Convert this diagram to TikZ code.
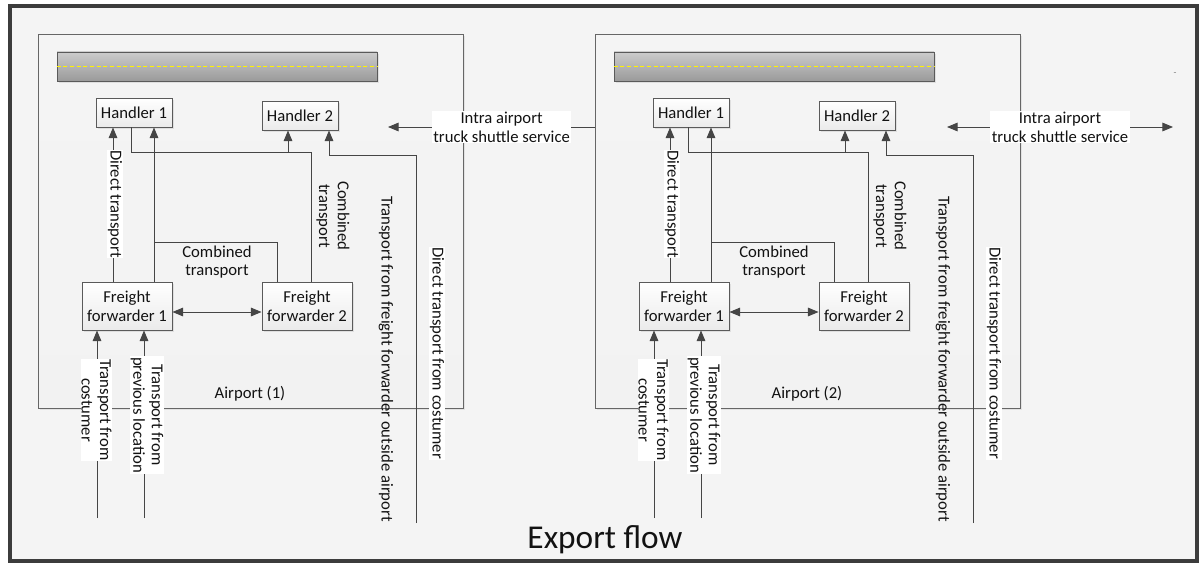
\documentclass[tikz,border=0pt]{standalone}
\usepackage{fontspec}
\setmainfont{Carlito}
\usetikzlibrary{arrows.meta,shadows}

\definecolor{framegray}{HTML}{3C3C3C}
\definecolor{linegray}{HTML}{454545}
\definecolor{boxgray}{HTML}{5A5A5A}
\definecolor{textgray}{HTML}{121212}
\definecolor{paper}{HTML}{F4F4F4}
\definecolor{runwaygray}{HTML}{ABABAB}

\tikzset{
  flow/.style={draw=linegray, line width=0.7pt, -{Triangle[length=8pt,width=6.5pt]}},
  biflow/.style={draw=linegray, line width=0.7pt, {Triangle[length=8pt,width=6.5pt]}-{Triangle[length=8pt,width=6.5pt]}},
  conn/.style={draw=linegray, line width=0.7pt},
  txt/.style={align=center, text=textgray, inner sep=1pt, font=\fontsize{12.5}{14}\selectfont},
  lbl/.style={txt, fill=white},
  box/.style={txt, draw=boxgray, line width=0.7pt, top color=white, bottom color=gray!16,
    drop shadow={opacity=0.18, shadow xshift=1.5pt, shadow yshift=-1.5pt}},
  airport/.style={draw=gray!80!black, line width=0.7pt, top color=paper, bottom color=gray!10,
    minimum width=318.75pt, minimum height=280.5pt,
    drop shadow={opacity=0.15, shadow xshift=1.5pt, shadow yshift=-1.5pt}},
  runway/.style={draw=boxgray, line width=0.7pt, top color=gray!40, bottom color=runwaygray!90!black,
    minimum width=240pt, minimum height=21.75pt,
    drop shadow={opacity=0.18, shadow xshift=1.5pt, shadow yshift=-1.5pt}},
  centreline/.style={draw=yellow, line width=0.7pt, dash pattern=on 3pt off 2pt}
}

\begin{document}
\begin{tikzpicture}[x=0.75pt, y=-0.75pt]
  \useasboundingbox (0,0) rectangle (1201,567);
  \fill[white] (0,0) rectangle (1201,567);
  \draw[line width=3pt, draw=framegray, fill=paper] (10,6.5) rectangle (1197,561);

  \foreach \dx/\n in {0/1,557/2} {
    \begin{scope}[shift={(\dx,0)}]
      \node[airport] (ap\n) at (250.5,221) {};
      \node[runway] (rw\n) at (217,66.5) {};
      \draw[centreline] (rw\n.west) -- (rw\n.east);

      \node[box, minimum width=57pt, minimum height=21.75pt] (hA\n) at (134,112.5) {Handler 1};
      \node[box, minimum width=57pt, minimum height=21.75pt] (hB\n) at (300,115.5) {Handler 2};
      \node[box, minimum width=67.5pt, minimum height=36pt] (fA\n) at (127,306) {Freight\\forwarder 1};
      \node[box, minimum width=67.5pt, minimum height=36pt] (fB\n) at (307,306) {Freight\\forwarder 2};

      \coordinate (j0) at (113,282);
      \coordinate (j1) at (131,152);
      \coordinate (j2) at (311,152);
      \coordinate (j3) at (288,152);
      \coordinate (j4) at (154,242);
      \coordinate (j5) at (277,242);
      \coordinate (j6) at (416,155);
      \coordinate (j7) at (329,155);
      \coordinate (s1) at (416,523);
      \coordinate (s2) at (97,518);
      \coordinate (s3) at (144,518);

      \draw[flow] (j0) -- (hA\n.south -| j0);
      \draw[conn] (fB\n.north -| j2) -- (j2) -- (j1) -- (hA\n.south -| j1);
      \draw[flow] (j3) -- (hB\n.south -| j3);
      \draw[flow] (fA\n.north -| j4) -- (hA\n.south -| j4);
      \draw[conn] (j4) -- (j5) -- (fB\n.north -| j5);
      \draw[flow] (s1) -- (j6) -- (j7) -- (hB\n.south -| j7);
      \draw[flow] (s2) -- (fA\n.south -| s2);
      \draw[flow] (s3) -- (fA\n.south -| s3);
      \draw[biflow] ([yshift=-4.5pt]fA\n.east) -- ([yshift=-4.5pt]fB\n.west);

      \node[lbl, rotate=-90, inner sep=0.5pt] (ldt\n) at (115,204) {Direct transport};
      \node[txt] (lcb\n) at (217,262) {Combined\\transport};
      \node[txt, rotate=-90] (lcv\n) at (333,216) {Combined\\transport};
      \node[txt, rotate=-90] (lout\n) at (386,359) {Transport from freight forwarder outside airport};
      \node[lbl, rotate=-90, inner sep=0.5pt] (ldc\n) at (437,353) {Direct transport from costumer};
      \node[lbl, rotate=-90, inner sep=0.5pt] (lcu\n) at (96.5,410) {Transport from\\costumer};
      \node[lbl, rotate=-90, inner sep=0.5pt] (lpl\n) at (147,415) {Transport from\\previous location};
      \node[txt] (apl\n) at (250,394) {Airport (\n)};
    \end{scope}
  }

  \coordinate (sh1) at (388,127);
  \coordinate (sh2) at (947,127);
  \coordinate (sh3) at (1173,127);
  \draw[flow] (ap2.west |- sh1) -- (sh1) node[lbl, pos=0.45] (shl1) {Intra airport\\truck shuttle service};
  \draw[biflow] (sh2) -- (sh3) node[lbl, pos=0.5] (shl2) {Intra airport\\truck shuttle service};

  \node[txt, text=gray, font=\scriptsize] (mark) at (1175,74) {-};
  \node[txt, font=\fontsize{25}{28}\selectfont] (title) at (605,540) {Export flow};
\end{tikzpicture}
\end{document}
